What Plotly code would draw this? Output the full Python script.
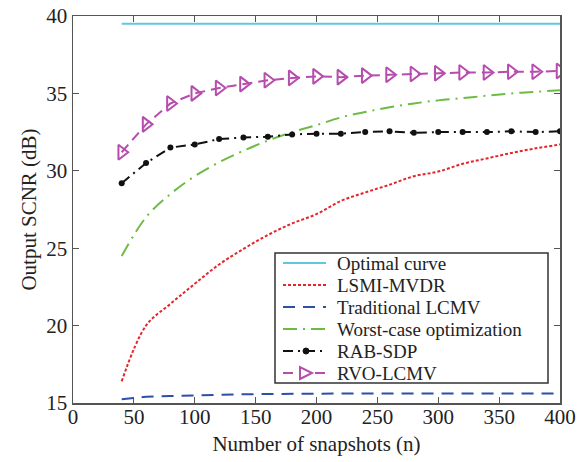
import plotly.graph_objects as go

snapshots = [40, 60, 80, 100, 120, 140, 160, 180, 200, 220, 240, 260, 280, 300, 320, 340, 360, 380, 400]

optimal = [39.5] * 19
lsmi_mvdr = [16.4, 20.0, 21.4, 22.7, 23.95, 24.95, 25.85, 26.6, 27.2, 28.05, 28.6, 29.1, 29.65, 29.95, 30.45, 30.8, 31.15, 31.45, 31.7]
traditional_lcmv = [15.25, 15.4, 15.45, 15.5, 15.53, 15.56, 15.58, 15.6, 15.62, 15.62, 15.62, 15.62, 15.62, 15.62, 15.62, 15.62, 15.62, 15.62, 15.62]
worst_case = [24.5, 27.0, 28.5, 29.65, 30.55, 31.3, 31.95, 32.5, 32.95, 33.45, 33.8, 34.1, 34.35, 34.55, 34.7, 34.85, 35.0, 35.1, 35.2]
rab_sdp = [29.2, 30.5, 31.5, 31.7, 32.05, 32.15, 32.2, 32.35, 32.4, 32.4, 32.5, 32.55, 32.45, 32.5, 32.5, 32.5, 32.55, 32.5, 32.55]
rvo_lcmv = [31.2, 33.0, 34.35, 35.0, 35.35, 35.6, 35.85, 36.0, 36.1, 36.05, 36.15, 36.2, 36.25, 36.3, 36.35, 36.35, 36.4, 36.4, 36.45]

series_names = ["Optimal curve", "LSMI-MVDR", "Traditional LCMV", "Worst-case optimization", "RAB-SDP", "RVO-LCMV"]

x_ticks = [0, 50, 100, 150, 200, 250, 300, 350, 400]
y_ticks = [15, 20, 25, 30, 35, 40]

FONT = "Liberation Serif"
TXT = "#222222"

styles = [
    dict(color="#62C6DE", dash="solid", marker=None),
    dict(color="#E3262B", dash="3px,2px", marker=None),
    dict(color="#2E4FA8", dash="12px,8px", marker=None),
    dict(color="#6DBB45", dash="14px,6px,2px,6px", marker=None),
    dict(color="#111111", dash="10px,5px,2px,5px", marker="dot"),
    dict(color="#B64DAE", dash="10px,6px", marker="tri"),
]
series_values = [optimal, lsmi_mvdr, traditional_lcmv, worst_case, rab_sdp, rvo_lcmv]

fig = go.Figure()
for name, vals, st in zip(series_names, series_values, styles):
    kw = dict(x=snapshots, y=vals, name=name, showlegend=False,
              line=dict(color=st["color"], width=2, dash=st["dash"]))
    if name in ("LSMI-MVDR", "Worst-case optimization"):
        kw["line"]["shape"] = "spline"
    if st["marker"] == "dot":
        kw["mode"] = "lines+markers"
        kw["marker"] = dict(symbol="circle", size=6, color=st["color"])
    elif st["marker"] == "tri":
        kw["mode"] = "lines+markers"
        kw["marker"] = dict(symbol="triangle-right-open", size=13, color=st["color"],
                            line=dict(width=2, color=st["color"]))
    else:
        kw["mode"] = "lines"
    fig.add_trace(go.Scatter(**kw))

axis_common = dict(
    showline=True, linecolor="#555555", linewidth=1.5, mirror="ticks",
    ticks="inside", ticklen=6, tickcolor="#555555", tickwidth=1.2,
    showgrid=False, zeroline=False, automargin=False, ticklabeloverflow="allow",
    tickfont=dict(family=FONT, size=21, color=TXT),
)

fig.update_xaxes(range=[0, 400], tickvals=x_ticks, ticklabelstandoff=-6, **axis_common,
                 title=dict(text="Number of snapshots (n)", font=dict(family=FONT, size=21, color=TXT), standoff=8))
fig.update_yaxes(range=[15, 40], tickvals=y_ticks, **axis_common,
                 title=dict(text="Output SCNR (dB)", font=dict(family=FONT, size=21, color=TXT), standoff=4))

# ---- manual legend (box, samples, labels), positioned in plot-fraction coordinates ----
PX0, PX1, PY0, PY1 = 73.0, 560.0, 16.0, 403.0   # plot area in page pixels (layout only)
def fx(px):
    return (px - PX0) / (PX1 - PX0)
def fy(py):
    return (PY1 - py) / (PY1 - PY0)

shapes = [dict(type="rect", xref="paper", yref="paper",
               x0=fx(275), x1=fx(548), y0=fy(383), y1=fy(253),
               line=dict(color="#333333", width=1.5), fillcolor="white", layer="above")]
annotations = []
row_py = [263.0, 285.0, 307.0, 329.0, 351.0, 373.0]
for name, st, py in zip(series_names, styles, row_py):
    shapes.append(dict(type="line", xref="paper", yref="paper",
                       x0=fx(283), x1=fx(326), y0=fy(py), y1=fy(py),
                       line=dict(color=st["color"], width=2, dash=st["dash"]), layer="above"))
    if st["marker"] == "dot":
        shapes.append(dict(type="circle", xref="paper", yref="paper",
                           xsizemode="pixel", ysizemode="pixel",
                           xanchor=fx(306), yanchor=fy(py),
                           x0=-3, x1=3, y0=-3, y1=3,
                           fillcolor=st["color"], line=dict(color=st["color"], width=1), layer="above"))
    elif st["marker"] == "tri":
        shapes.append(dict(type="path", xref="paper", yref="paper",
                           xsizemode="pixel", ysizemode="pixel",
                           xanchor=fx(305), yanchor=fy(py),
                           path="M -5,-6 L 7,0 L -5,6 Z",
                           fillcolor="white", line=dict(color=st["color"], width=2), layer="above"))
    annotations.append(dict(text=name, xref="paper", yref="paper", x=fx(335), y=fy(py),
                            xanchor="left", yanchor="middle", showarrow=False,
                            font=dict(family=FONT, size=19, color=TXT)))

fig.update_layout(
    width=585, height=462,
    margin=dict(l=73, r=25, t=16, b=59),
    plot_bgcolor="white", paper_bgcolor="white",
    font=dict(family=FONT, color=TXT),
    showlegend=False,
    shapes=shapes, annotations=annotations,
)

fig.write_html("out.html", config={"displayModeBar": False, "staticPlot": True},
               post_script="document.body.style.margin='0';document.body.style.overflow='hidden';")
